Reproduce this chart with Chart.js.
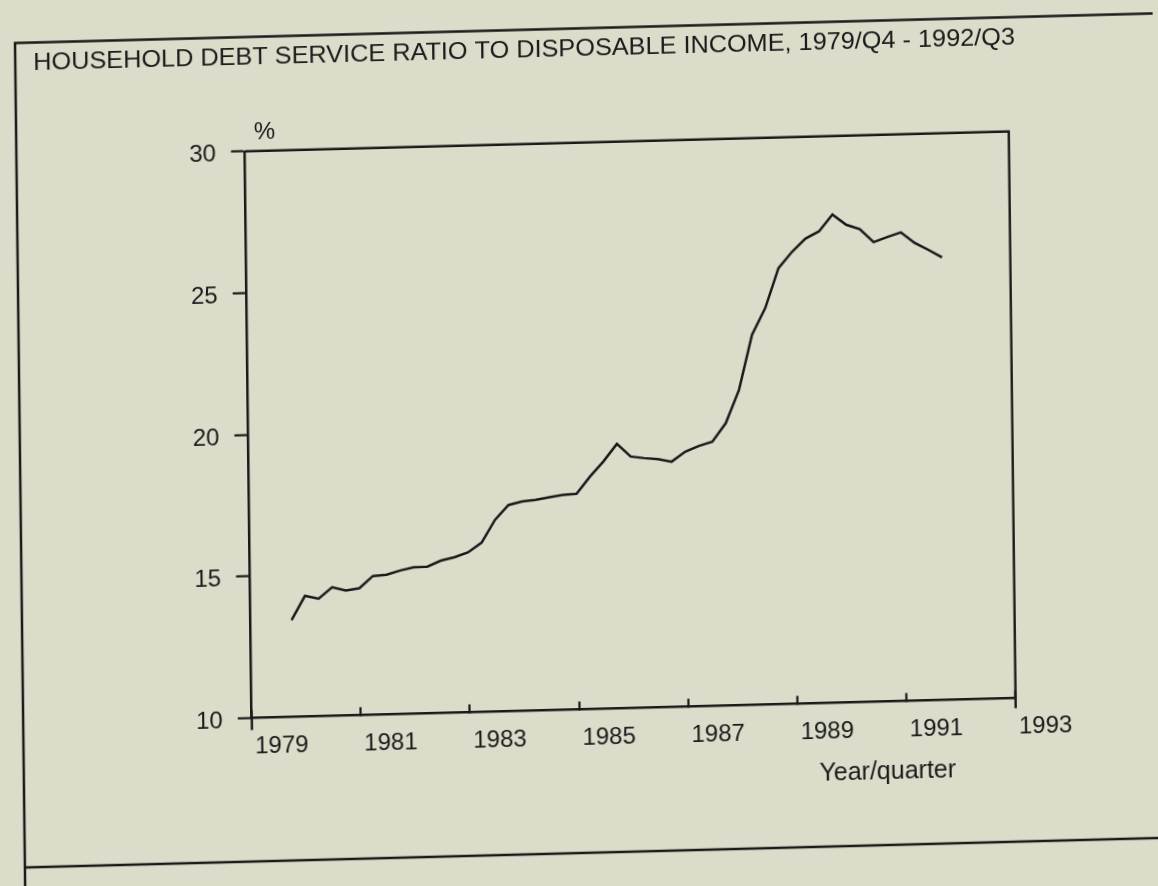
<!DOCTYPE html>
<html>
<head>
<meta charset="utf-8">
<title>Household debt service ratio</title>
<script src="https://cdn.jsdelivr.net/npm/chart.js@4/dist/chart.umd.min.js"></script>
<style>
  html, body { margin: 0; padding: 0; background: #dcdccb; overflow: hidden; }
  #chart {
    display: block;
    width: 1158px;
    height: 886px;
    /* the scanned page is slightly skewed */
    transform-origin: 579px 443px;
    transform: matrix(1, -0.026, 0.012, 1, 0, 0);
  }
</style>
</head>
<body>
<canvas id="chart" width="1158" height="886"></canvas>
<script>
const quarters = [
    '1979/Q4',
    '1980/Q1', '1980/Q2', '1980/Q3', '1980/Q4',
    '1981/Q1', '1981/Q2', '1981/Q3', '1981/Q4',
    '1982/Q1', '1982/Q2', '1982/Q3', '1982/Q4',
    '1983/Q1', '1983/Q2', '1983/Q3', '1983/Q4',
    '1984/Q1', '1984/Q2', '1984/Q3', '1984/Q4',
    '1985/Q1', '1985/Q2', '1985/Q3', '1985/Q4',
    '1986/Q1', '1986/Q2', '1986/Q3', '1986/Q4',
    '1987/Q1', '1987/Q2', '1987/Q3', '1987/Q4',
    '1988/Q1', '1988/Q2', '1988/Q3', '1988/Q4',
    '1989/Q1', '1989/Q2', '1989/Q3', '1989/Q4',
    '1990/Q1', '1990/Q2', '1990/Q3', '1990/Q4',
    '1991/Q1', '1991/Q2', '1991/Q3', '1991/Q4'
];
const debtRatio = [
    13.42,
    14.26, 14.15, 14.54, 14.41,
    14.48, 14.90, 14.93, 15.07,
    15.17, 15.18, 15.38, 15.49,
    15.65, 15.98, 16.77, 17.28,
    17.39, 17.44, 17.52, 17.59,
    17.61, 18.21, 18.73, 19.34,
    18.88, 18.81, 18.76, 18.66,
    19.00, 19.19, 19.33, 19.97,
    21.13, 23.06, 24.00, 25.39,
    25.95, 26.41, 26.65, 27.23,
    26.86, 26.69, 26.22, 26.39,
    26.54, 26.16, 25.90, 25.62
];
const xTicks = [1979, 1981, 1983, 1985, 1987, 1989, 1991, 1993];
const yTicks = [10, 15, 20, 25, 30];

const titleText = 'HOUSEHOLD DEBT SERVICE RATIO TO DISPOSABLE INCOME, 1979/Q4 - 1992/Q3';
const ink = '#1a1a1a';
const fontFamily = '"Liberation Sans", Arial, Helvetica, sans-serif';

// "1985/Q3" -> 1985.5 (start of the quarter)
function quarterToYear(q) {
    const parts = q.split('/Q');
    return Number(parts[0]) + (Number(parts[1]) - 1) / 4;
}

const points = quarters.map((q, i) => ({ x: quarterToYear(q), y: debtRatio[i] }));

const paperFrame = {
    id: 'paperFrame',
    beforeDraw(chart) {
        const ctx = chart.ctx;
        ctx.save();
        ctx.fillStyle = '#dcdccb';
        ctx.fillRect(0, 0, chart.width, chart.height);

        // page box around the figure
        ctx.strokeStyle = ink;
        ctx.lineWidth = 2.5;
        ctx.beginPath();
        ctx.moveTo(20, chart.height);
        ctx.lineTo(20, 28.5);
        ctx.lineTo(chart.width, 28.5);
        ctx.moveTo(20, 853);
        ctx.lineTo(chart.width, 853);
        ctx.stroke();

        // condensed heading
        ctx.fillStyle = ink;
        ctx.font = '24px "Liberation Sans Narrow", ' + fontFamily;
        ctx.textBaseline = 'middle';
        ctx.textAlign = 'left';
        const w = ctx.measureText(titleText).width;
        ctx.translate(38, 49);
        ctx.scale(982 / w, 1);
        ctx.fillText(titleText, 0, 0);
        ctx.restore();
    },
    afterDraw(chart) {
        const ctx = chart.ctx;
        const area = chart.chartArea;
        ctx.save();
        ctx.strokeStyle = ink;
        ctx.lineWidth = 2.4;
        ctx.beginPath();
        ctx.moveTo(area.left, area.top);
        ctx.lineTo(area.right, area.top);
        ctx.lineTo(area.right, area.bottom + 10);
        ctx.moveTo(area.left, area.bottom);
        ctx.lineTo(area.left, area.bottom + 12);
        ctx.stroke();

        ctx.fillStyle = ink;
        ctx.textBaseline = 'middle';
        ctx.textAlign = 'left';
        ctx.font = '24px ' + fontFamily;
        ctx.fillText('%', area.left + 9, area.top - 18);

        ctx.textAlign = 'center';
        ctx.font = '25px ' + fontFamily;
        ctx.fillText('Year/quarter', 884, 780);
        ctx.restore();
    }
};

new Chart(document.getElementById('chart').getContext('2d'), {
    type: 'line',
    data: {
        datasets: [{
            label: 'Debt service ratio',
            data: points,
            borderColor: ink,
            borderWidth: 2.5,
            pointRadius: 0,
            tension: 0,
            fill: false
        }]
    },
    options: {
        responsive: false,
        animation: false,
        devicePixelRatio: 1,
        layout: {
            padding: { left: 168.7, right: 145.3, top: 142.8, bottom: 116.5 }
        },
        plugins: {
            legend: { display: false },
            tooltip: { enabled: false }
        },
        scales: {
            x: {
                type: 'linear',
                min: 1979,
                max: 1993,
                afterBuildTicks: scale => { scale.ticks = xTicks.map(v => ({ value: v })); },
                afterFit: scale => { scale.height = 60; },
                grid: {
                    drawOnChartArea: false,
                    tickLength: -8,
                    tickWidth: 2.2,
                    tickColor: ink
                },
                border: { color: ink, width: 2.5 },
                ticks: {
                    align: 'start',
                    padding: 22.5,
                    labelOffset: 3,
                    maxRotation: 0,
                    autoSkip: false,
                    color: ink,
                    font: { family: fontFamily, size: 24 },
                    callback: v => String(v)
                }
            },
            y: {
                min: 10,
                max: 30,
                afterBuildTicks: scale => { scale.ticks = yTicks.map(v => ({ value: v })); },
                afterFit: scale => { scale.width = 80; },
                grid: {
                    drawOnChartArea: false,
                    tickLength: 14,
                    tickWidth: 2.2,
                    tickColor: ink
                },
                border: { color: ink, width: 2.5 },
                ticks: {
                    padding: 15,
                    labelOffset: 3,
                    color: ink,
                    font: { family: fontFamily, size: 24 },
                    callback: v => String(v)
                }
            }
        }
    },
    plugins: [paperFrame]
});
</script>
</body>
</html>
